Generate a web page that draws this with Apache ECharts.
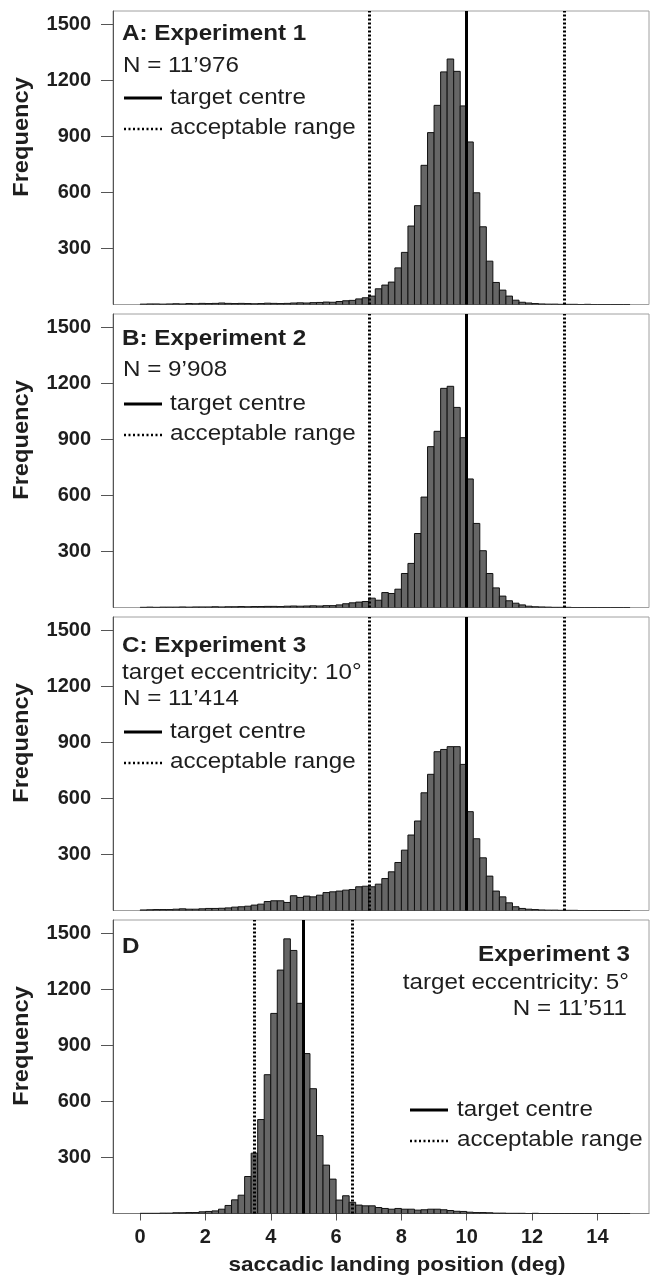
<!DOCTYPE html>
<html>
<head>
<meta charset="utf-8">
<script src="https://cdn.jsdelivr.net/npm/echarts@6/dist/echarts.min.js"></script>
<style>
html,body{margin:0;padding:0;background:#fff;}
#chart{width:654px;height:1279px;}
</style>
</head>
<body>
<div id="chart"></div>
<script>
// ---- data ----
const binStarts = [0,0.2,0.4,0.6,0.8,1,1.2,1.4,1.6,1.8,2,2.2,2.4,2.6,2.8,3,3.2,3.4,3.6,3.8,4,4.2,4.4,4.6,4.8,5,5.2,5.4,5.6,5.8,6,6.2,6.4,6.6,6.8,7,7.2,7.4,7.6,7.8,8,8.2,8.4,8.6,8.8,9,9.2,9.4,9.6,9.8,10,10.2,10.4,10.6,10.8,11,11.2,11.4,11.6,11.8,12,12.2,12.4,12.6,12.8,13,13.2,13.4,13.6,13.8,14,14.2,14.4,14.6,14.8];
const binWidth = 0.2;

const freqA = [2,3,3,2,3,4,3,5,4,6, 5,6,8,6,5,6,5,4,5,7, 6,5,6,8,9,8,10,11,13,12,
  16,20,22,30,36,45,84,104,120,196, 279,420,529,745,920,1066,1245,1314,1248,1063,
  870,598,416,232,118,77,45,23,12,8, 5,3,2,2,1,1,1,0,1,0, 0,0,0,0,0];
const freqB = [1,2,1,2,2,2,3,2,3,3, 3,4,3,4,4,5,4,5,5,6, 6,5,7,8,7,8,9,8,10,10,
  14,20,25,29,32,50,39,80,75,98, 182,236,396,591,861,943,1173,1184,1071,909,
  688,450,304,182,105,61,36,23,14,7, 4,3,2,1,1,1,0,0,0,0, 0,0,0,0,0];
const freqC = [3,4,5,5,5,7,9,7,7,9, 11,11,12,14,18,20,23,29,34,48,
  52,52,43,79,70,77,73,82,96,100, 104,109,112,127,130,127,141,171,207,257,
  323,404,479,630,729,850,862,877,877,782, 529,384,282,184,104,73,41,20,11,7,
  5,3,2,2,1,1,1,0,0,0, 0,0,0,0,0];
const freqD = [1,1,1,2,2,4,4,5,5,9, 11,14,23,43,73,98,198,323,503,743,
  1071,1303,1470,1408,1125,856,668,417,259,184, 72,95,60,45,41,41,32,27,23,27,
  23,23,18,20,23,23,20,16,12,11, 7,5,5,4,2,2,1,1,1,0,
  1,0,0,0,0,0,0,0,0,0, 0,0,0,0,0];

const targetCentre = [10, 10, 10, 5];
const rangeLow = [7, 7, 7, 3.5];
const rangeHigh = [13, 13, 13, 6.5];

const yTicks = [300, 600, 900, 1200, 1500];
const xTicks = [0, 2, 4, 6, 8, 10, 12, 14];

const panelTitles = ['A: Experiment 1', 'B: Experiment 2', 'C: Experiment 3', 'D'];
const nLabels = ['N = 11\u2019976', 'N = 9\u2019908', 'N = 11\u2019414', 'N = 11\u2019511'];
const eccLabels = [null, null, 'target eccentricity: 10\u00b0', 'target eccentricity: 5\u00b0'];
const legendLabels = ['target centre', 'acceptable range'];
const yAxisTitle = 'Frequency';
const xAxisTitle = 'saccadic landing position (deg)';

// ---- layout ----
const FONT = '"Liberation Sans", Arial, sans-serif';
const panelTops = [11, 314, 617, 920];
const panelH = 293.5;
const gridLeft = 113, gridRight = 649;
const xMin = -0.83, xMax = 15.58;
const yMax = 1571;
const allFreq = [freqA, freqB, freqC, freqD];

const chart = echarts.init(document.getElementById('chart'), null, {renderer: 'canvas'});

const grids = [], xAxes = [], yAxes = [], series = [], graphics = [];

function renderBar(params, api) {
  const x0 = api.value(0), v = api.value(1);
  const p0 = api.coord([x0, v]);
  const p1 = api.coord([x0 + binWidth, 0]);
  return {
    type: 'rect',
    shape: {x: p0[0], y: p0[1], width: p1[0] - p0[0], height: p1[1] - p0[1]},
    style: {fill: '#666666', stroke: '#111', lineWidth: 1}
  };
}

function txt(x, y, text, opts) {
  opts = opts || {};
  return {
    type: 'text', x: x, y: y, scaleX: opts.scaleX || 1.1, rotation: opts.rotation || 0,
    silent: true, z: 100,
    style: {
      text: text, fill: '#1e1e1e',
      fontFamily: FONT, fontSize: opts.size || 22, fontWeight: opts.bold ? 'bold' : 'normal',
      align: opts.align || 'left', verticalAlign: 'middle',
      textAlign: opts.align || 'left', textVerticalAlign: 'middle'
    }
  };
}
function seg(x1, y1, x2, y2, dotted) {
  return {
    type: 'line', silent: true, z: 100,
    shape: {x1: x1, y1: y1, x2: x2, y2: y2},
    style: dotted ? {stroke: '#000', lineWidth: 2.5, lineDash: [2, 2.5]} : {stroke: '#000', lineWidth: 3}
  };
}

for (let i = 0; i < 4; i++) {
  const top = panelTops[i];
  const isLast = i === 3;
  grids.push({left: gridLeft, width: gridRight - gridLeft, top: top, height: panelH,
    show: true, borderColor: '#a0a0a0', borderWidth: 1, backgroundColor: 'transparent'});
  xAxes.push({
    type: 'value', gridIndex: i, min: xMin, max: xMax,
    splitLine: {show: false},
    axisLine: {show: isLast, onZero: false, lineStyle: {color: '#777', width: 1}},
    axisTick: {show: isLast, length: 7, lineStyle: {color: '#555'}, customValues: xTicks},
    axisLabel: {show: isLast, customValues: xTicks, margin: 14, color: '#1e1e1e',
      fontFamily: FONT, fontSize: 20, fontWeight: 'bold', formatter: v => String(v)}
  });
  yAxes.push({
    type: 'value', gridIndex: i, min: 0, max: yMax,
    splitLine: {show: false},
    axisLine: {show: true, onZero: false, lineStyle: {color: '#555', width: 1}},
    axisTick: {show: true, length: 12, lineStyle: {color: '#555'}, customValues: yTicks},
    axisLabel: {show: true, customValues: yTicks, margin: 22, color: '#1e1e1e',
      fontFamily: FONT, fontSize: 20, fontWeight: 'bold', formatter: v => String(v)}
  });
  const data = binStarts.map((b, k) => [b, allFreq[i][k]]);
  series.push({
    type: 'custom', xAxisIndex: i, yAxisIndex: i, data: data, renderItem: renderBar,
    clip: true, silent: true,
    markLine: {
      silent: true, symbol: 'none', label: {show: false}, animation: false,
      data: [
        {xAxis: targetCentre[i], lineStyle: {type: 'solid', width: 3, color: '#000'}},
        {xAxis: rangeLow[i], lineStyle: {type: [2, 2], width: 3, color: '#000'}},
        {xAxis: rangeHigh[i], lineStyle: {type: [2, 2], width: 3, color: '#000'}}
      ]
    }
  });
  graphics.push(txt(22, top + 126, yAxisTitle, {bold: true, size: 21.5, rotation: Math.PI / 2, align: 'center'}));
}

// annotations panel A
graphics.push(txt(122, 34, panelTitles[0], {bold: true}));
graphics.push(txt(123, 66, nLabels[0]));
graphics.push(seg(124, 98, 162, 98, false));
graphics.push(txt(170, 98, legendLabels[0]));
graphics.push(seg(124, 129, 162, 129, true));
graphics.push(txt(170, 128, legendLabels[1]));
// panel B
graphics.push(txt(122, 339, panelTitles[1], {bold: true}));
graphics.push(txt(123, 370, nLabels[1]));
graphics.push(seg(124, 404, 162, 404, false));
graphics.push(txt(170, 404, legendLabels[0]));
graphics.push(seg(124, 435, 162, 435, true));
graphics.push(txt(170, 434, legendLabels[1]));
// panel C
graphics.push(txt(122, 646, panelTitles[2], {bold: true}));
graphics.push(txt(122, 673, eccLabels[2]));
graphics.push(txt(123, 699, nLabels[2]));
graphics.push(seg(124, 732, 162, 732, false));
graphics.push(txt(170, 732, legendLabels[0]));
graphics.push(seg(124, 763, 162, 763, true));
graphics.push(txt(170, 762, legendLabels[1]));
// panel D
graphics.push(txt(122, 947, panelTitles[3], {bold: true}));
graphics.push(txt(630, 955, 'Experiment 3', {bold: true, align: 'right'}));
graphics.push(txt(629, 983, eccLabels[3], {align: 'right'}));
graphics.push(txt(627, 1009, nLabels[3], {align: 'right'}));
graphics.push(seg(410, 1110, 448, 1110, false));
graphics.push(txt(457, 1110, legendLabels[0]));
graphics.push(seg(410, 1141, 448, 1141, true));
graphics.push(txt(457, 1140, legendLabels[1]));
// x axis title
graphics.push(txt(397, 1265, xAxisTitle, {bold: true, size: 20.5, align: 'center'}));

chart.setOption({
  animation: false,
  backgroundColor: '#fff',
  grid: grids, xAxis: xAxes, yAxis: yAxes, series: series,
  graphic: graphics
});
</script>
</body>
</html>
